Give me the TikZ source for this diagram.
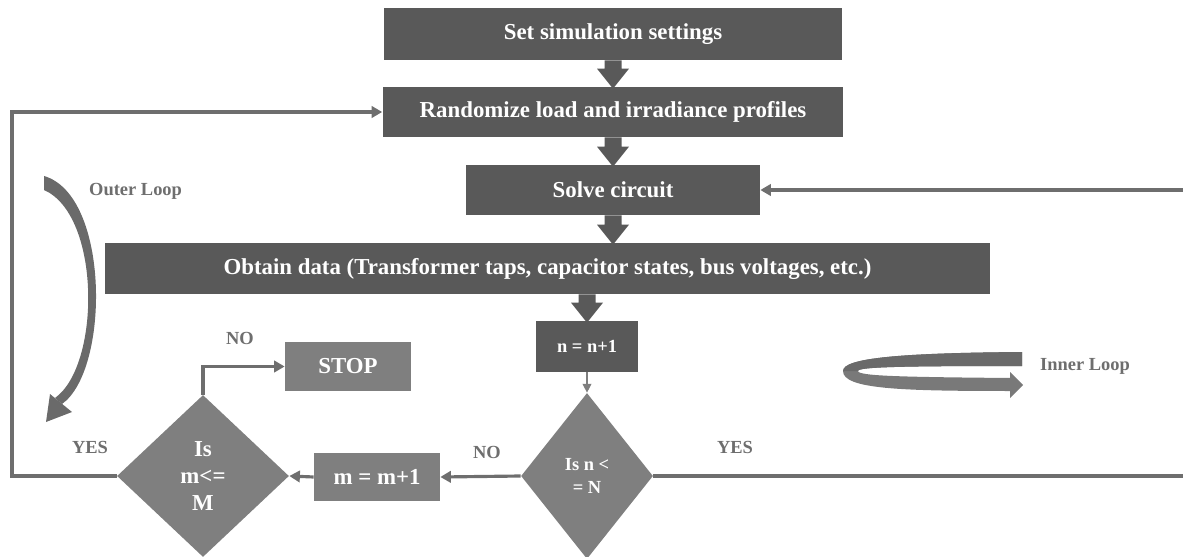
\documentclass[tikz,border=0pt]{standalone}
\usepackage{fontspec}
\setmainfont{Liberation Serif}
\usepackage{tikz}
\usetikzlibrary{arrows.meta,shapes.geometric,calc}
\definecolor{boxdark}{HTML}{595959}
\definecolor{boxlight}{HTML}{7F7F7F}
\definecolor{connclr}{HTML}{6E6E6E}
\tikzstyle{darkbox}=[fill=boxdark, text=white, font=\bfseries\fontsize{13}{15.6}\selectfont, inner sep=0pt]
\tikzstyle{lightbox}=[fill=boxlight, text=white, font=\bfseries\fontsize{13}{15.6}\selectfont, inner sep=0pt]
\tikzstyle{decision}=[diamond, fill=boxlight, text=white, align=center, inner sep=0pt, font=\bfseries\fontsize{13}{15.6}\selectfont]
\tikzstyle{conn}=[draw=connclr, line width=1.8pt, -{Triangle[width=6.5pt,length=6pt]}]
\tikzstyle{lbl}=[text=connclr, font=\bfseries\fontsize{10.5}{12}\selectfont]
\newcommand{\downArrow}[2]{
	\coordinate (ZZa) at (#1);
	\coordinate (ZZb) at (#2);
	\fill[boxdark] ($(ZZa)+(-8.5,0)$) -- ($(ZZb)+(-8.5,-18)$) -- ($(ZZb)+(-16,-18)$) -- ($(ZZb)+(0,2)$)
		-- ($(ZZb)+(16,-18)$) -- ($(ZZb)+(8.5,-18)$) -- ($(ZZa)+(8.5,0)$) -- cycle;
}

\begin{document}
\begin{tikzpicture}[x=0.02cm, y=-0.02cm]
	\useasboundingbox (0,0) rectangle (1183,557);
	% main chain
	\node[darkbox, minimum width=9.18cm, minimum height=1.04cm] (set) at (613,34) {Set simulation settings};
	\node[darkbox, minimum width=9.22cm, minimum height=1.0cm] (rand) at (613,112) {Randomize load and irradiance profiles};
	\node[darkbox, minimum width=5.88cm, minimum height=1.0cm] (solve) at (613,190) {Solve circuit};
	\node[darkbox, minimum width=17.7cm, minimum height=1.02cm] (obtain) at (547.5,268.5) {Obtain data (Transformer taps, capacitor states, bus voltages, etc.)};
	\node[darkbox, minimum width=2.04cm, minimum height=1.02cm, font=\bfseries\fontsize{10.5}{12.6}\selectfont] (ninc) at (587,346.5) {n = n+1};
	\downArrow{set.south}{rand.north}
	\downArrow{rand.south}{solve.north}
	\downArrow{solve.south}{solve.south |- obtain.north}
	\downArrow{obtain.south -| ninc.north}{ninc.north}
	% decisions
	\node[decision, minimum width=2.64cm, minimum height=3.32cm, font=\bfseries\fontsize{10.5}{13.5}\selectfont] (ndec) at (587,476) {Is n <\\= N};
	\node[decision, minimum width=3.44cm, minimum height=3.24cm] (mdec) at (203,476) {Is\\m<=\\M};
	\node[lightbox, minimum width=2.52cm, minimum height=0.96cm] (minc) at (377,477) {m = m+1};
	\node[lightbox, minimum width=2.52cm, minimum height=0.98cm] (stop) at (348,366.5) {STOP};
	\coordinate (innerR) at (1187,476);
	\coordinate (outerL) at (12,300);
	% connectors
	\draw[conn, line width=0.6pt, -{Triangle[width=5pt,length=5pt]}, draw=boxlight] (ninc) -- (ndec);
	\draw[conn] (ndec.east) -- (innerR) |- (solve.east);
	\draw[conn] (ndec.west) -- (minc.east);
	\draw[conn] (minc.west) -- (mdec.east);
	\draw[conn] (mdec.north) |- (stop.west);
	\draw[conn] (mdec.west) -- (outerL |- mdec.west) |- (rand.west);
	\node[lbl] at (240,338) {NO};
	\node[lbl] at (90,447) {YES};
	\node[lbl] at (487,452) {NO};
	\node[lbl] at (735,447) {YES};
	% loop arrows
	\fill[boxdark!90] (44,176) .. controls (110,195) and (110,370) .. (62,404)
		-- (55,398) .. controls (101,365) and (101,215) .. (44,190) -- cycle;
	\fill[boxdark!90] (72,412) -- (46,422) -- (50,394) -- cycle;
	\node[lbl, anchor=west] at (83,191) {Outer Loop};
	\fill[boxlight!95!black] (1022,352) .. controls (900,353) and (843,358) .. (843,371)
		.. controls (843,389) and (900,391) .. (1010,391) -- (1010,398) -- (1023,385) -- (1010,372) -- (1010,378)
		.. controls (900,377) and (858,376) .. (858,371) .. controls (858,367) and (900,366) .. (1022,366) -- cycle;
	\fill[boxdark!90] (1022,352) .. controls (900,353) and (843,358) .. (843,371)
		-- (858,371) .. controls (858,367) and (900,366) .. (1022,366) -- cycle;
	\node[lbl, anchor=west] at (1034,366) {Inner Loop};
\end{tikzpicture}
\end{document}
